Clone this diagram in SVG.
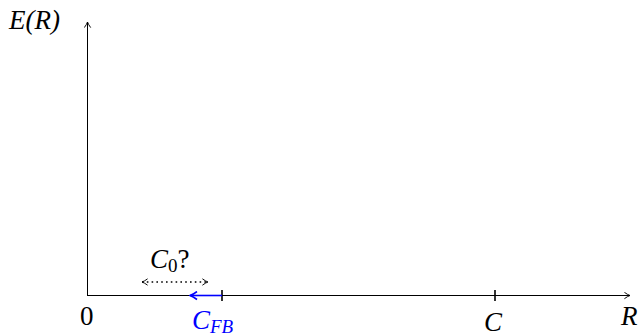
<svg xmlns="http://www.w3.org/2000/svg" width="644" height="336" viewBox="0 0 644 336">
<defs>
<marker id="ah" viewBox="0 0 10 10" refX="9" refY="5" markerWidth="8" markerHeight="8" orient="auto-start-reverse" markerUnits="userSpaceOnUse">
<path d="M2,1 Q6,4 9,5 Q6,6 2,9" fill="none" stroke="#000" stroke-width="1.2"/>
</marker>
<marker id="ahb" viewBox="0 0 10 10" refX="9" refY="5" markerWidth="10" markerHeight="10" orient="auto" markerUnits="userSpaceOnUse">
<path d="M2,1 Q6,4 9,5 Q6,6 2,9" fill="none" stroke="#0000ff" stroke-width="1.6"/>
</marker>
</defs>
<text x="9" y="29" font-family="'Liberation Serif', 'Times New Roman', serif" font-size="27" font-style="italic">E(R)</text>
<text x="80" y="325" font-family="'Liberation Serif', 'Times New Roman', serif" font-size="27">0</text>
<text x="192" y="329" font-family="'Liberation Serif', 'Times New Roman', serif" font-size="27" font-style="italic" fill="#0000ff">C<tspan font-size="19" dy="4">FB</tspan></text>
<text x="484" y="331" font-family="'Liberation Serif', 'Times New Roman', serif" font-size="27" font-style="italic">C</text>
<text x="621" y="325" font-family="'Liberation Serif', 'Times New Roman', serif" font-size="27" font-style="italic">R</text>
<text x="150" y="268" font-family="'Liberation Serif', 'Times New Roman', serif" font-size="27" font-style="italic">C<tspan font-style="normal" font-size="19" dy="4">0</tspan><tspan font-style="normal" dy="-4">?</tspan></text>
<g id="axes" stroke="#000" fill="none">
<line x1="87" y1="295.5" x2="630" y2="295.5" stroke-width="1" marker-end="url(#ah)"/>
<line x1="87.5" y1="295" x2="87.5" y2="22" stroke-width="1" marker-end="url(#ah)"/>
<line x1="222" y1="290" x2="222" y2="301" stroke-width="1.6"/>
<line x1="495" y1="290" x2="495" y2="301" stroke-width="1.6"/>
</g>
<g id="connectors">
<line x1="222" y1="295.5" x2="190" y2="295.5" stroke="#0000ff" stroke-width="1.6" marker-end="url(#ahb)"/>
<line x1="142" y1="282" x2="208" y2="282" stroke="#000" stroke-width="1.6" stroke-dasharray="1.6 3.2" marker-start="url(#ah)" marker-end="url(#ah)"/>
</g>
</svg>
